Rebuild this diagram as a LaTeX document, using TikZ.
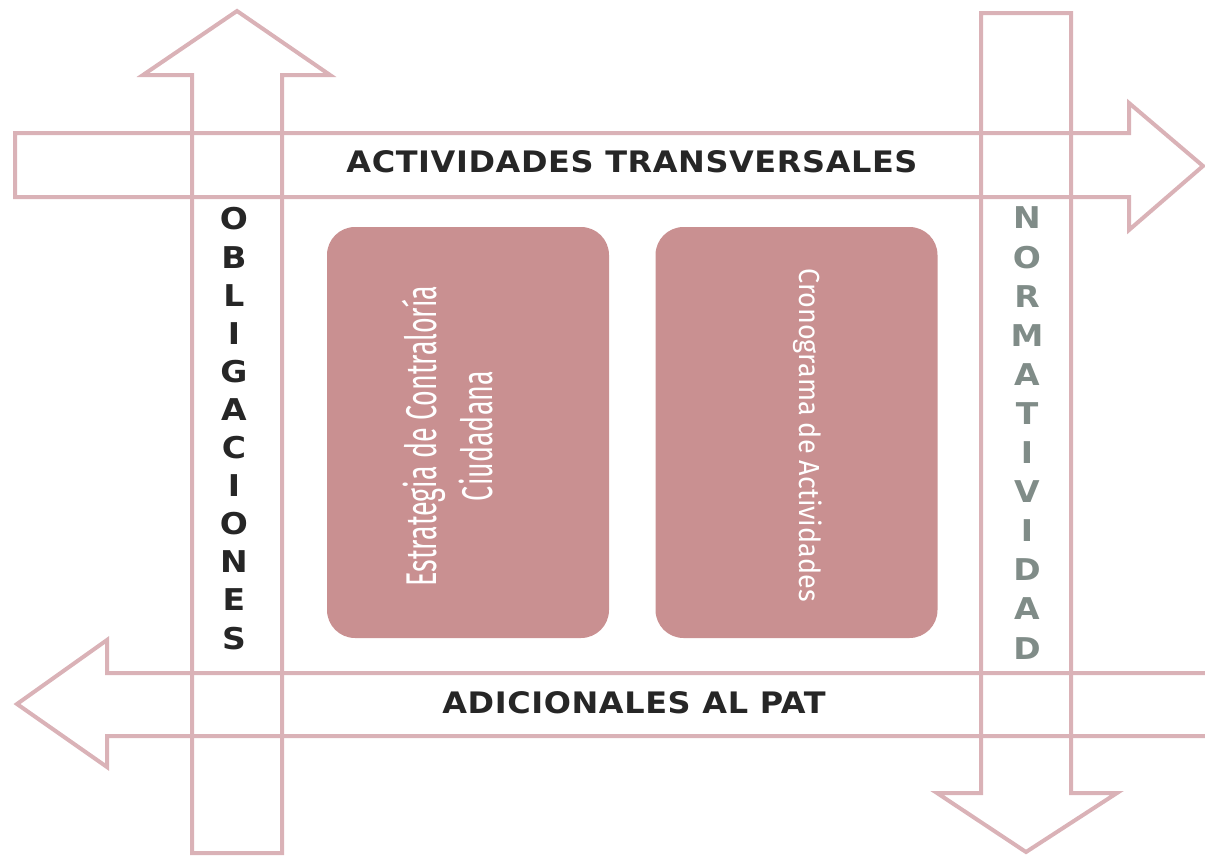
\documentclass[tikz,border=0pt]{standalone}
\usepackage{fontspec}
\setmainfont{DejaVu Sans}
\newfontfamily\headfont[FakeStretch=1.08,LetterSpace=2]{DejaVu Sans}
\newfontfamily\lettfont[FakeStretch=1.1]{DejaVu Sans}
\newfontfamily\estfont[FakeStretch=0.625]{Fira Sans}
\newfontfamily\cronfont[FakeStretch=0.93]{Fira Sans}
\usetikzlibrary{positioning}

\definecolor{rim}{RGB}{218,178,183}
\definecolor{rose}{RGB}{201,144,145}
\definecolor{ink}{RGB}{38,38,38}
\definecolor{sage}{RGB}{128,140,136}

\begin{document}
\begin{tikzpicture}[x=0.5pt,y=-0.5pt,
    outline/.style={draw=rim,line width=2pt,line join=miter},
    card/.style={fill=rose,rounded corners=14pt,minimum width=141pt,minimum height=205.5pt,inner sep=0pt},
    head/.style={text=ink,font=\headfont\bfseries\fontsize{14.8}{17}\selectfont},
    letter/.style={font=\lettfont\bfseries\fontsize{15}{17}\selectfont,inner sep=0pt}]
  \useasboundingbox (0,0) rectangle (1205,857);

  % arrows
  \draw[outline] (15,133) -- (1129,133) -- (1129,103) -- (1203,166) -- (1129,230) -- (1129,197) -- (15,197) -- cycle;
  \draw[outline] (1205,673) -- (107,673) -- (107,640) -- (17,704) -- (107,767) -- (107,736) -- (1205,736);
  \draw[outline] (192,853) -- (192,75) -- (143,75) -- (237,11) -- (330,75) -- (282,75) -- (282,853) -- cycle;
  \draw[outline] (981,13) -- (981,793) -- (937,793) -- (1026,852) -- (1117,793) -- (1071,793) -- (1071,13) -- cycle;

  \node (trans) [head] at (632,162) {ACTIVIDADES TRANSVERSALES};
  \node (adic) [head] at (634,703) {ADICIONALES AL PAT};

  \foreach \l [count=\i from 0] in {O,B,L,I,G,A,C,I,O,N,E,S}
    \node (ob\i) [letter,text=ink] at (234,219+38.1*\i) {\l};
  \foreach \l [count=\i from 0] in {N,O,R,M,A,T,I,V,I,D,A,D}
    \node (nm\i) [letter,text=sage] at (1027,218+39.1*\i) {\l};

  \node (est) [card] at (468,432.5) {};
  \node (cron) [card] at (796.5,432.5) {};

  \node (esttxt) [rotate=90,text=white,align=center,font=\estfont\fontsize{21.5}{28}\selectfont] at (448,436) {Estrategia de Contraloría\\Ciudadana};
  \node (crontxt) [rotate=-90,text=white,font=\cronfont\fontsize{14.5}{17}\selectfont] at (808,435) {Cronograma de Actividades};
\end{tikzpicture}
\end{document}
